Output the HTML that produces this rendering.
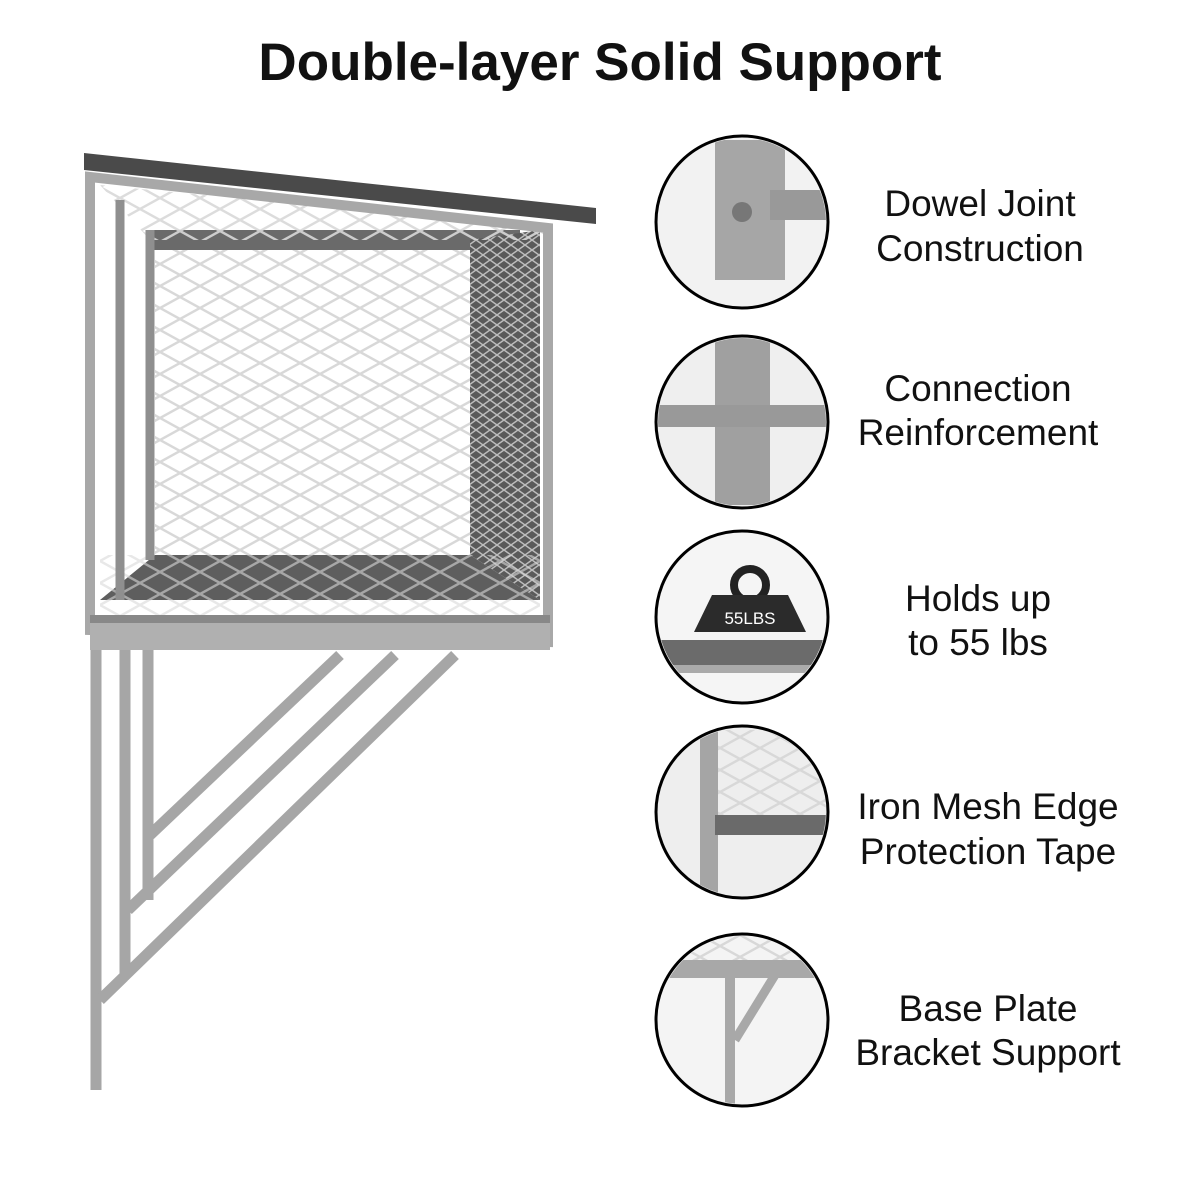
<!DOCTYPE html>
<html><head><style>
body{margin:0;background:#fff;}
svg{display:block}
text{font-family:"Liberation Sans",sans-serif;}
</style></head><body>
<svg width="1200" height="1200" viewBox="0 0 1200 1200">
<defs>
<pattern id="mesh" width="40" height="22" patternUnits="userSpaceOnUse">
<path d="M0 0 L40 22 M40 0 L0 22" stroke="#d8d8d8" stroke-width="2.5" fill="none"/>
</pattern>
<pattern id="meshd" width="14" height="10" patternUnits="userSpaceOnUse">
<rect width="14" height="10" fill="#5a5a5a"/>
<path d="M0 0 L14 10 M14 0 L0 10" stroke="#bdbdbd" stroke-width="1.5"/>
</pattern>
</defs>
<rect width="1200" height="1200" fill="#fff"/>
<text x="600" y="80" text-anchor="middle" font-size="53" font-weight="bold" fill="#111">Double-layer Solid Support</text>

<!-- roof -->
<polygon points="84,153 596,208 596,224 84,170" fill="#4a4a4a"/>
<!-- back panel -->
<rect x="155" y="240" width="315" height="315" fill="url(#mesh)"/>
<rect x="150" y="230" width="370" height="20" fill="#6a6a6a"/>
<!-- right side dark mesh -->
<polygon points="470,240 540,230 540,600 470,555" fill="url(#meshd)"/>
<!-- top mesh -->
<polygon points="100,185 548,228 540,240 150,240" fill="url(#mesh)" opacity="0.9"/>
<!-- shelf floor -->
<polygon points="155,555 470,555 540,600 100,600" fill="#5e5e5e"/>
<rect x="100" y="555" width="440" height="60" fill="url(#mesh)" opacity="0.6"/>
<!-- front frame -->
<g fill="none" stroke="#a8a8a8" stroke-width="10">
<polygon points="90,177 548,228 548,642 90,630"/>
</g>
<g stroke="#8f8f8f" stroke-width="9" fill="none">
<line x1="120" y1="200" x2="120" y2="600"/>
<line x1="150" y1="230" x2="150" y2="560"/>
</g>
<rect x="90" y="615" width="460" height="35" fill="#b0b0b0"/>
<rect x="90" y="615" width="460" height="8" fill="#888"/>
<!-- legs -->
<g stroke="#a6a6a6" stroke-width="11" fill="none">
<line x1="96" y1="650" x2="96" y2="1090"/>
<line x1="125" y1="650" x2="125" y2="975"/>
<line x1="148" y1="650" x2="148" y2="900"/>
<line x1="100" y1="1000" x2="455" y2="655"/>
<line x1="128" y1="910" x2="395" y2="655"/>
<line x1="150" y1="835" x2="340" y2="655"/>
</g>

<g stroke="#000" stroke-width="3">
<circle cx="742" cy="222" r="86" fill="#f2f2f2"/>
<circle cx="742" cy="422" r="86" fill="#efefef"/>
<circle cx="742" cy="617" r="86" fill="#f5f5f5"/>
<circle cx="742" cy="812" r="86" fill="#eeeeee"/>
<circle cx="742" cy="1020" r="86" fill="#f4f4f4"/>
</g>
<clipPath id="c1"><circle cx="742" cy="222" r="84"/></clipPath>
<g clip-path="url(#c1)">
<rect x="715" y="140" width="70" height="140" fill="#a6a6a6"/>
<rect x="770" y="190" width="60" height="30" fill="#999"/>
<circle cx="742" cy="212" r="10" fill="#777"/>
</g>
<clipPath id="c2"><circle cx="742" cy="422" r="84"/></clipPath>
<g clip-path="url(#c2)">
<rect x="715" y="335" width="55" height="170" fill="#a0a0a0"/>
<rect x="650" y="405" width="180" height="22" fill="#999"/>
</g>
<clipPath id="c3"><circle cx="742" cy="617" r="84"/></clipPath>
<g clip-path="url(#c3)">
<rect x="650" y="640" width="180" height="25" fill="#6b6b6b"/>
<rect x="650" y="665" width="180" height="8" fill="#aaa"/>
<circle cx="750" cy="585" r="16" fill="none" stroke="#222" stroke-width="8"/>
<polygon points="712,595 788,595 806,632 694,632" fill="#2b2b2b"/>
<text x="750" y="624" text-anchor="middle" font-size="17" fill="#fff">55LBS</text>
</g>
<clipPath id="c4"><circle cx="742" cy="812" r="84"/></clipPath>
<g clip-path="url(#c4)">
<rect x="715" y="730" width="120" height="90" fill="url(#mesh)"/>
<rect x="700" y="730" width="18" height="170" fill="#a5a5a5"/>
<rect x="715" y="815" width="120" height="20" fill="#6a6a6a"/>
</g>
<clipPath id="c5"><circle cx="742" cy="1020" r="84"/></clipPath>
<g clip-path="url(#c5)">
<rect x="650" y="935" width="180" height="30" fill="url(#mesh)"/>
<rect x="650" y="960" width="180" height="18" fill="#a8a8a8"/>
<rect x="725" y="975" width="10" height="130" fill="#a8a8a8"/>
<line x1="735" y1="1040" x2="775" y2="975" stroke="#a8a8a8" stroke-width="9"/>
</g>

<g font-size="37" fill="#111" text-anchor="middle">
<text x="980" y="216">Dowel Joint</text>
<text x="980" y="261">Construction</text>
<text x="978" y="401">Connection</text>
<text x="978" y="445">Reinforcement</text>
<text x="978" y="611">Holds up</text>
<text x="978" y="655">to 55 lbs</text>
<text x="988" y="819">Iron Mesh Edge</text>
<text x="988" y="864">Protection Tape</text>
<text x="988" y="1021">Base Plate</text>
<text x="988" y="1065">Bracket Support</text>
</g>
</svg>
</body></html>
